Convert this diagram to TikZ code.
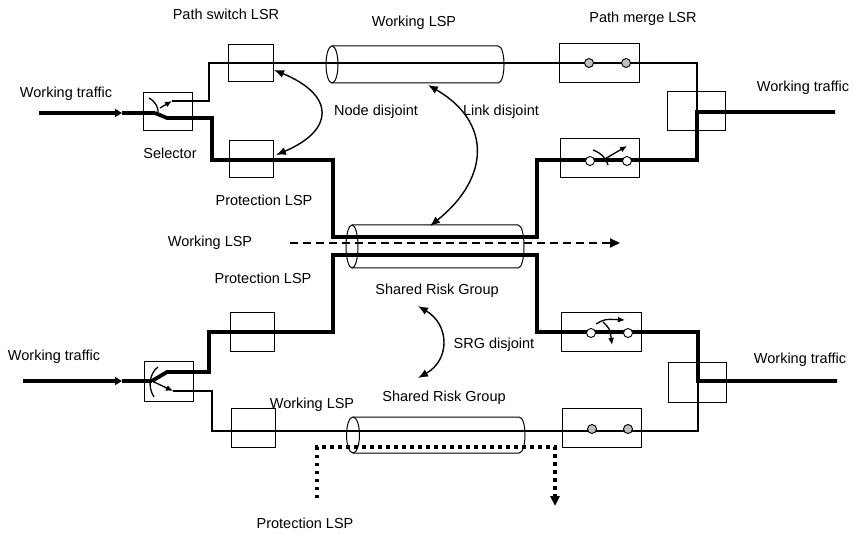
\documentclass[tikz,border=0pt]{standalone}
\usepackage{fontspec}
\setmainfont{Liberation Sans}
\usepackage{tikz}
\usepackage{tkz-euclide}
\usetikzlibrary{arrows.meta}

\tikzset{
  lbl/.style={font=\fontsize{14.5}{17}\selectfont, inner sep=0pt},
  lsr/.style={draw, line width=1pt, inner sep=0pt},
  port/.style={circle, draw, line width=0.9pt, minimum size=9pt, inner sep=0pt, fill=white},
  merged/.style={port, fill=black!25},
  thinlsp/.style={line width=1.2pt},
  thicklsp/.style={line width=3.8pt},
  tube/.style={line width=1pt},
  lever/.style={line width=1.3pt, -{Latex[length=7pt,width=6pt]}},
  disjoint/.style={line width=1.4pt, {Latex[length=10pt,width=8pt]}-{Latex[length=10pt,width=8pt]}},
  dashlsp/.style={line width=2pt, dash pattern=on 8pt off 5pt, -{Triangle[length=10pt,width=9pt]}},
  dotlsp/.style={line width=3.5pt, dash pattern=on 3.5pt off 4.5pt, -{Triangle[length=10pt,width=9pt]}},
  feed/.style={thicklsp, -{Triangle[length=7pt,width=8pt]}}
}

\begin{document}
\begin{tikzpicture}[x=1pt,y=-1pt]
    \useasboundingbox (0,0) rectangle (853,534);
    \tkzDefPoint(39,113){it_1}
    \tkzDefPoint(122,113){it_2}
    \tkzDefPoint(23,381){ib_1}
    \tkzDefPoint(122,381){ib_2}
    \tkzDefPoint(155,113){pt_1}
    \tkzDefPoint(167,118){pt_2}
    \tkzDefPoint(212,118){pt_3}
    \tkzDefPoint(212,160){pt_4}
    \tkzDefPoint(333,160){pt_5}
    \tkzDefPoint(333,237){pt_6}
    \tkzDefPoint(537,237){pt_7}
    \tkzDefPoint(537,160){pt_8}
    \tkzDefPoint(697,160){pt_9}
    \tkzDefPoint(697,112){pt_10}
    \tkzDefPoint(835,112){pt_11}
    \tkzDefPoint(172,101){wt_1}
    \tkzDefPoint(209,101){wt_2}
    \tkzDefPoint(209,63){wt_3}
    \tkzDefPoint(697,63){wt_4}
    \tkzDefPoint(152,381){pb_1}
    \tkzDefPoint(167,372){pb_2}
    \tkzDefPoint(209,372){pb_3}
    \tkzDefPoint(209,332){pb_4}
    \tkzDefPoint(333,332){pb_5}
    \tkzDefPoint(333,255){pb_6}
    \tkzDefPoint(537,255){pb_7}
    \tkzDefPoint(537,332){pb_8}
    \tkzDefPoint(698,332){pb_9}
    \tkzDefPoint(698,381){pb_10}
    \tkzDefPoint(837,381){pb_11}
    \tkzDefPoint(173,391){wb_1}
    \tkzDefPoint(212,391){wb_2}
    \tkzDefPoint(212,431){wb_3}
    \tkzDefPoint(698,431){wb_4}
    \tkzDefPoint(290,243){dl_1}
    \tkzDefPoint(620,243){dl_2}
    \tkzDefPoint(317,498){dt_1}
    \tkzDefPoint(317,447){dt_2}
    \tkzDefPoint(555,447){dt_3}
    \tkzDefPoint(555,506){dt_4}
    \tkzDefPoint(274,70){nd_1}
    \tkzDefPoint(276,155){nd_2}
    \tkzDefPoint(428,85){ld_1}
    \tkzDefPoint(430,226){ld_2}
    \tkzDefPoint(418,306){sd_1}
    \tkzDefPoint(418,378){sd_2}

    % traffic in
    \draw[feed] (it_1) -- (it_2);
    \draw[thicklsp] (it_2) -- (pt_1);
    \draw[feed] (ib_1) -- (ib_2);
    \draw[thicklsp] (ib_2) -- (pb_1);

    % working and protection paths
    \draw[thinlsp] (wt_1) -- (wt_2) -- (wt_3) -- (wt_4) -- (pt_10);
    \draw[thicklsp] (pt_1) -- (pt_2) -- (pt_3) -- (pt_4) -- (pt_5) -- (pt_6) -- (pt_7) -- (pt_8) -- (pt_9) -- (pt_10) -- (pt_11);
    \draw[thinlsp] (wb_1) -- (wb_2) -- (wb_3) -- (wb_4) -- (pb_10);
    \draw[thicklsp] (pb_1) -- (pb_2) -- (pb_3) -- (pb_4) -- (pb_5) -- (pb_6) -- (pb_7) -- (pb_8) -- (pb_9) -- (pb_10) -- (pb_11);
    \draw[dashlsp] (dl_1) -- (dl_2);
    \draw[dotlsp] (dt_1) -- (dt_2) -- (dt_3) -- (dt_4);

    % tubes
    \draw[tube] (332,46) -- (498,46) .. controls (506,46) and (506,83) .. (498,83) -- (332,83);
    \draw[tube] (332,64.5) ellipse [x radius=6, y radius=18.5];
    \draw[tube] (352,225) -- (518,225) .. controls (526,225) and (526,268) .. (518,268) -- (352,268);
    \draw[tube] (352,246.5) ellipse [x radius=6, y radius=21.5];
    \draw[tube] (353,417) -- (519,417) .. controls (527,417) and (527,453) .. (519,453) -- (353,453);
    \draw[tube] (353,435) ellipse [x radius=6.5, y radius=18];

    % LSR boxes
    \node[lsr, minimum width=49pt, minimum height=38pt] (sel_t) at (167.5,112) {};
    \node[lsr, minimum width=45pt, minimum height=37pt] (sw_t) at (250.5,63.5) {};
    \node[lsr, minimum width=44pt, minimum height=37pt] (sp_t) at (251,159.5) {};
    \node[lsr, minimum width=80pt, minimum height=39pt] (mw_t) at (599,63.5) {};
    \node[lsr, minimum width=79pt, minimum height=39pt] (mp_t) at (599.5,158.5) {};
    \node[lsr, minimum width=58pt, minimum height=39pt] (out_t) at (696,111.5) {};
    \node[lsr, minimum width=49pt, minimum height=40pt] (sel_b) at (168.5,381) {};
    \node[lsr, minimum width=44pt, minimum height=39pt] (sp_b) at (252,331.5) {};
    \node[lsr, minimum width=44pt, minimum height=39pt] (sw_b) at (253,427.5) {};
    \node[lsr, minimum width=80pt, minimum height=39pt] (mp_b) at (601,331.5) {};
    \node[lsr, minimum width=79pt, minimum height=39pt] (mw_b) at (601.5,427.5) {};
    \node[lsr, minimum width=58pt, minimum height=40pt] (out_b) at (697,382) {};

    \node[merged] (c_1) at (589,63) {};
    \node[merged] (c_2) at (626,63) {};
    \node[port] (c_3) at (590,161) {};
    \node[port] (c_4) at (627,161) {};
    \node[port] (c_5) at (591,333) {};
    \node[port] (c_6) at (628,333) {};
    \node[merged] (c_7) at (592,429) {};
    \node[merged] (c_8) at (628,429) {};

    % switches
    \draw[line width=1.3pt] (149,98) .. controls (156,102) and (159,108) .. (158,115);
    \draw[lever] (160,108) -- (wt_1);
    \draw[line width=1.3pt] (154,397) .. controls (147,386) and (150,373) .. (158,367);
    \draw[lever] (152,381) -- (wb_1);
    \draw[line width=1.3pt] (593,150) .. controls (601,153) and (606,158) .. (608,165);
    \draw[lever] (603,160) -- (627,146);
    \draw[lever] (596,324) .. controls (605,319) .. (625,320);
    \draw[lever] (603,322) .. controls (610,329) .. (612,345);

    % disjointness
    \draw[disjoint] (nd_1) .. controls (335,95) and (335,130) .. (nd_2);
    \draw[disjoint] (ld_1) .. controls (492,122) and (490,178) .. (ld_2);
    \draw[disjoint] (sd_1) .. controls (450,325) and (450,360) .. (sd_2);

    \node[lbl] (t_1) at (226,14) {Path switch LSR};
    \node[lbl] (t_2) at (414,23) {Working LSP};
    \node[lbl] (t_3) at (643,19) {Path merge LSR};
    \node[lbl] (t_4) at (66,94) {Working traffic};
    \node[lbl] (t_5) at (803,88) {Working traffic};
    \node[lbl] (t_6) at (170,153) {Selector};
    \node[lbl] (t_7) at (376,112) {Node disjoint};
    \node[lbl] (t_8) at (501,112) {Link disjoint};
    \node[lbl] (t_9) at (264,200) {Protection LSP};
    \node[lbl] (t_10) at (210,243) {Working LSP};
    \node[lbl] (t_11) at (263,278) {Protection LSP};
    \node[lbl] (t_12) at (437,291) {Shared Risk Group};
    \node[lbl] (t_13) at (494,345) {SRG disjoint};
    \node[lbl] (t_14) at (54,357) {Working traffic};
    \node[lbl] (t_15) at (800,360) {Working traffic};
    \node[lbl] (t_16) at (444,398) {Shared Risk Group};
    \node[lbl] (t_17) at (312,405) {Working LSP};
    \node[lbl] (t_18) at (305,523) {Protection LSP};
\end{tikzpicture}
\end{document}
